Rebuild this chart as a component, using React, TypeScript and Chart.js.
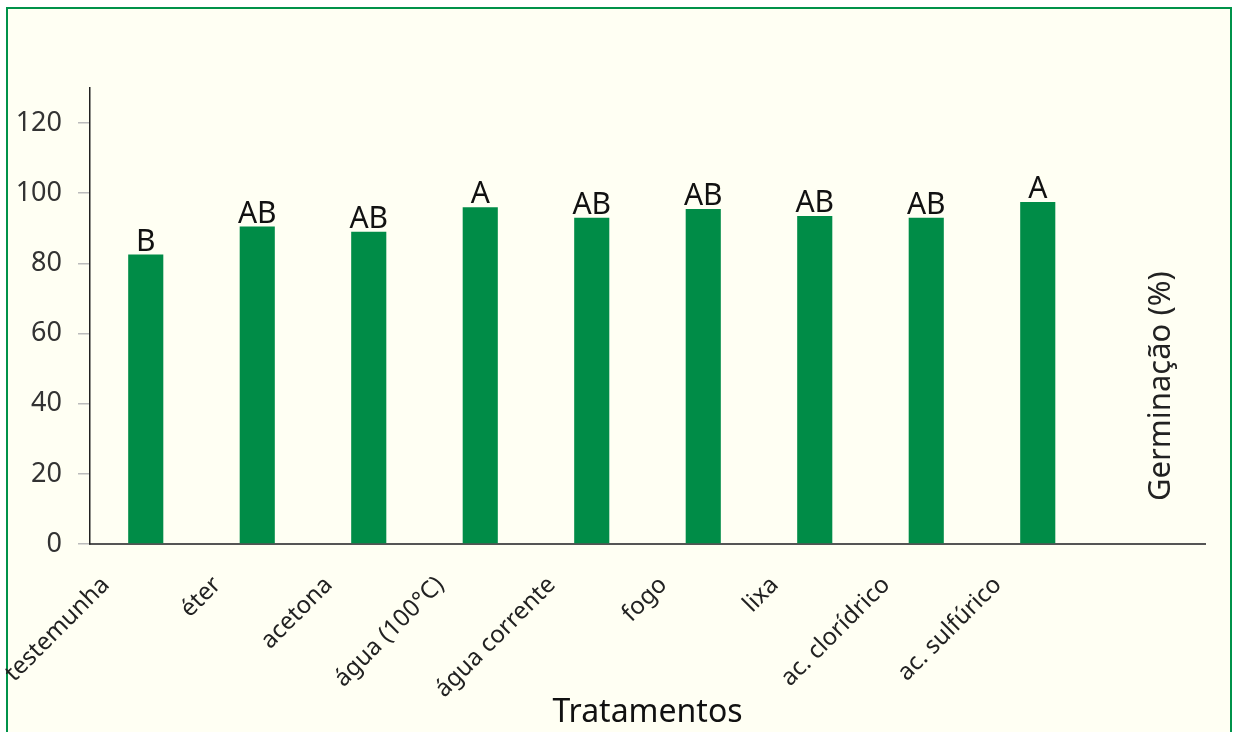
import React, { useEffect, useRef } from "react";
import { Chart, registerables } from "chart.js";

Chart.register(...registerables);

const categories = [
  "testemunha",
  "éter",
  "acetona",
  "água (100°C)",
  "água corrente",
  "fogo",
  "lixa",
  "ac. clorídrico",
  "ac. sulfúrico",
  "",
];
const germinacao = [82.5, 90.5, 89, 96, 93, 95.5, 93.5, 93, 97.5, null];
const letters = ["B", "AB", "AB", "A", "AB", "AB", "AB", "AB", "A", ""];
const yTicks = [0, 20, 40, 60, 80, 100, 120];
const xTitle = "Tratamentos";
const yTitle = "Germinação (%)";

const FONT = "'Noto Sans', 'DejaVu Sans', sans-serif";

export default function App() {
  const ref = useRef<HTMLCanvasElement | null>(null);

  useEffect(() => {
    document.body.style.margin = "0";
    const canvas = ref.current;
    if (!canvas) return;

    const framePlugin = {
      id: "frame",
      beforeDraw(chart: any) {
        const ctx = chart.ctx;
        ctx.save();
        ctx.fillStyle = "#ffffff";
        ctx.fillRect(0, 0, chart.width, chart.height);
        ctx.fillStyle = "#fffff3";
        ctx.fillRect(7, 8, chart.width - 14, chart.height);
        ctx.strokeStyle = "#00924a";
        ctx.lineWidth = 2;
        ctx.strokeRect(7, 8, chart.width - 14, chart.height + 10);
        ctx.restore();
      },
    };

    const letterPlugin = {
      id: "letters",
      afterDatasetsDraw(chart: any) {
        const ctx = chart.ctx;
        const meta = chart.getDatasetMeta(0);
        ctx.save();
        ctx.font = `30px ${FONT}`;
        ctx.fillStyle = "#111111";
        ctx.textAlign = "center";
        ctx.textBaseline = "alphabetic";
        meta.data.forEach((bar: any, i: number) => {
          const t = letters[i];
          if (!t || germinacao[i] == null) return;
          ctx.fillText(t, bar.x, bar.y - 4);
        });
        ctx.restore();
      },
    };

    const yTitlePlugin = {
      id: "yTitleRight",
      afterDraw(chart: any) {
        const ctx = chart.ctx;
        const y = chart.scales.y;
        const x = chart.scales.x;
        const cx = x.getPixelForValue(categories.length - 1) + 12;
        const cy = y.getPixelForValue(45);
        ctx.save();
        ctx.translate(cx, cy);
        ctx.rotate(-Math.PI / 2);
        ctx.font = `31px ${FONT}`;
        ctx.fillStyle = "#222222";
        ctx.textAlign = "center";
        ctx.textBaseline = "middle";
        ctx.fillText(yTitle, 0, 0);
        ctx.restore();
      },
    };

    const chart = new Chart(canvas, {
      type: "bar",
      data: {
        labels: categories,
        datasets: [
          {
            data: germinacao as any,
            backgroundColor: "#008c47",
            borderWidth: 0,
            barPercentage: 0.315,
            categoryPercentage: 1,
          },
        ],
      },
      options: {
        responsive: false,
        animation: false,
        layout: { padding: { left: 0, top: 88, right: 33, bottom: 0 } },
        plugins: {
          legend: { display: false },
          tooltip: { enabled: false },
          title: { display: false },
        },
        scales: {
          x: {
            afterFit: (s: any) => {
              s.height = 188;
            },
            grid: { display: false },
            border: { display: true, color: "#555555", width: 2 },
            ticks: {
              color: "#222222",
              font: { family: FONT, size: 24 },
              maxRotation: 45,
              minRotation: 45,
              padding: 19,
              labelOffset: -40,
              autoSkip: false,
            },
            title: {
              display: true,
              text: xTitle,
              color: "#111111",
              font: { family: FONT, size: 32 },
              padding: { top: 0, bottom: 0 },
            },
          },
          y: {
            min: 0,
            max: 130,
            afterFit: (s: any) => {
              s.width = 90;
            },
            afterBuildTicks: (axis: any) => {
              axis.ticks = yTicks.map((v) => ({ value: v }));
            },
            grid: {
              display: true,
              drawOnChartArea: false,
              drawTicks: true,
              tickLength: 12,
              color: "#bbbbbb",
              lineWidth: 1.5,
            },
            border: { display: true, color: "#222222", width: 1.5 },
            ticks: {
              color: "#333333",
              font: { family: FONT, size: 27 },
              padding: 16,
            },
          },
        },
      },
      plugins: [framePlugin, letterPlugin, yTitlePlugin],
    });

    return () => chart.destroy();
  }, []);

  return (
    <canvas
      ref={ref}
      width={1238}
      height={732}
      style={{ display: "block", width: 1238, height: 732 }}
    />
  );
}
